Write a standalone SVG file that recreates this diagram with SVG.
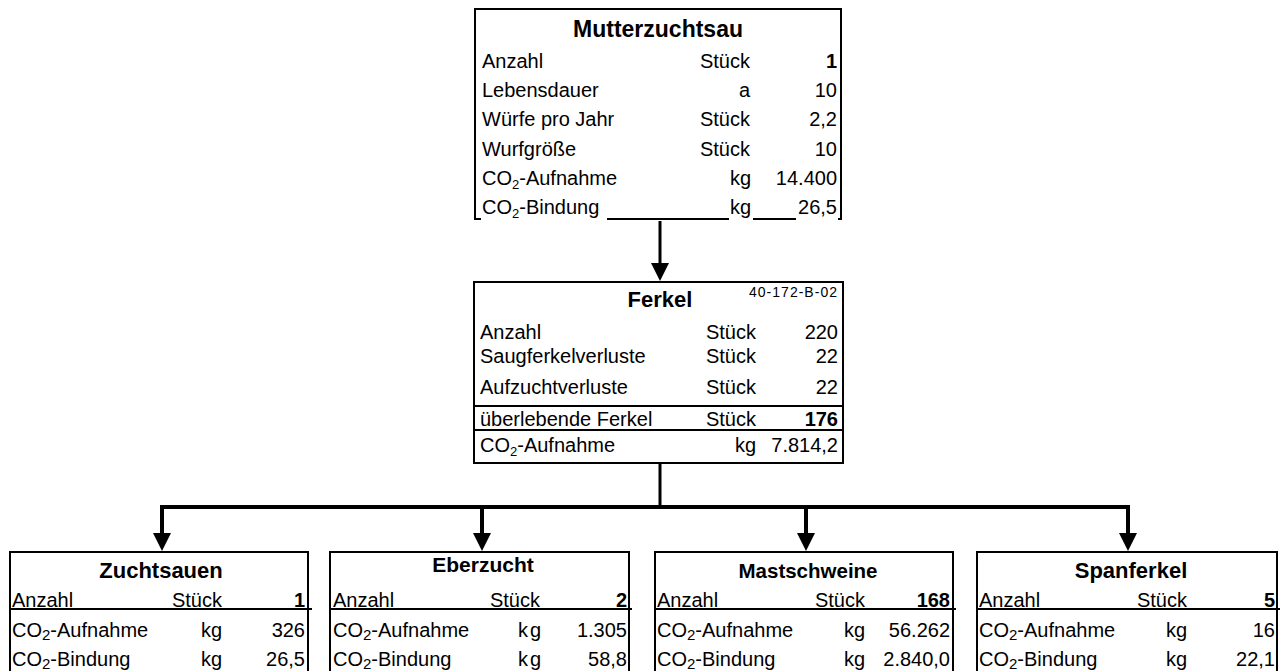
<svg xmlns="http://www.w3.org/2000/svg" width="1284" height="671" viewBox="0 0 1284 671">
<style>
text{font-family:"Liberation Sans",Arial,Helvetica,sans-serif;font-size:20px;fill:#000}
.b{font-weight:bold}
.t{font-weight:bold;font-size:22px;text-anchor:middle}
.r{text-anchor:end}
.m{text-anchor:middle}
.sub{font-size:13px}
.sub2{font-size:15px}
.code{font-size:14px}
.edge{fill:none;stroke:#000;stroke-width:2}
.ln{stroke:#000;stroke-width:2}
.conn{fill:none;stroke:#000;stroke-width:3}
.bar{fill:none;stroke:#000;stroke-width:4;stroke-linejoin:miter}
</style>
<defs>
<marker id="ah" viewBox="0 0 18 18" markerWidth="18" markerHeight="18" refX="6" refY="9" orient="auto" markerUnits="userSpaceOnUse">
<path d="M0,0 L18,9 L0,18 z" fill="#000"/>
</marker>
</defs>
<rect width="1284" height="671" fill="#fff"/>

<g id="connectors">
<line class="conn" x1="660" y1="221" x2="660" y2="269" marker-end="url(#ah)"/>
<line class="conn" x1="660" y1="463" x2="660" y2="507"/>
<path class="bar" d="M162,539 V507 H1128 V539" marker-end="url(#ah)"/>
<line class="bar" x1="162" y1="509" x2="162" y2="539" marker-end="url(#ah)"/>
<line class="bar" x1="482" y1="507" x2="482" y2="539" marker-end="url(#ah)"/>
<line class="bar" x1="806" y1="507" x2="806" y2="539" marker-end="url(#ah)"/>
</g>

<g id="mutterzuchtsau">
<path class="edge" d="M475,220 V9 H841 V220"/>
<path class="ln" d="M475,219 H481 M607,219 H729 M753,219 H796 M838,219 H841"/>
<text class="t" x="658" y="37" style="font-size:23px">Mutterzuchtsau</text>
<text x="482" y="68">Anzahl</text><text class="r" x="750" y="68">Stück</text><text class="b r" x="837" y="68">1</text>
<text x="482" y="97">Lebensdauer</text><text class="r" x="750" y="97">a</text><text class="r" x="837" y="97">10</text>
<text x="482" y="126">Würfe pro Jahr</text><text class="r" x="750" y="126">Stück</text><text class="r" x="837" y="126">2,2</text>
<text x="482" y="156">Wurfgröße</text><text class="r" x="750" y="156">Stück</text><text class="r" x="837" y="156">10</text>
<text x="482" y="185">CO<tspan class="sub" dy="4">2</tspan><tspan dy="-4">-Aufnahme</tspan></text><text class="r" x="751" y="185">kg</text><text class="r" x="837" y="185">14.400</text>
<text x="482" y="214">CO<tspan class="sub" dy="4">2</tspan><tspan dy="-4">-Bindung</tspan></text><text class="r" x="751" y="214">kg</text><text class="r" x="837" y="214">26,5</text>
</g>

<g id="ferkel">
<rect class="edge" x="474" y="282" width="369" height="181" fill="#fff"/>
<line class="ln" x1="474" y1="406" x2="843" y2="406"/>
<line class="ln" x1="474" y1="430" x2="843" y2="430"/>
<text class="t" x="660" y="307">Ferkel</text>
<text class="code r" x="837" y="297" textLength="88">40-172-B-02</text>
<text x="480" y="339">Anzahl</text><text class="r" x="756" y="339">Stück</text><text class="r" x="838" y="339">220</text>
<text x="480" y="363">Saugferkelverluste</text><text class="r" x="756" y="363">Stück</text><text class="r" x="838" y="363">22</text>
<text x="480" y="394">Aufzuchtverluste</text><text class="r" x="756" y="394">Stück</text><text class="r" x="838" y="394">22</text>
<text x="480" y="426">überlebende Ferkel</text><text class="r" x="756" y="426">Stück</text><text class="b r" x="838" y="426">176</text>
<text x="480" y="452">CO<tspan class="sub" dy="4">2</tspan><tspan dy="-4">-Aufnahme</tspan></text><text class="r" x="756" y="452">kg</text><text class="r" x="838" y="452">7.814,2</text>
</g>

<g id="zuchtsauen">
<path class="edge" d="M10,672 V552 H308 V672"/>
<line class="ln" x1="10" y1="609" x2="312" y2="609"/>
<text class="t" x="161" y="578">Zuchtsauen</text>
<text x="12" y="607">Anzahl</text><text class="r" x="222" y="607">Stück</text><text class="b r" x="305" y="607">1</text>
<text x="12" y="637">CO<tspan class="sub2" dy="3">2</tspan><tspan dy="-3">-Aufnahme</tspan></text><text class="r" x="222" y="637">kg</text><text class="r" x="305" y="637">326</text>
<text x="12" y="666">CO<tspan class="sub2" dy="3">2</tspan><tspan dy="-3">-Bindung</tspan></text><text class="r" x="222" y="666">kg</text><text class="r" x="305" y="666">26,5</text>
</g>

<g id="eberzucht">
<path class="edge" d="M330,672 V552 H629 V672"/>
<line class="ln" x1="330" y1="609" x2="632" y2="609"/>
<text class="t" x="483" y="572" style="font-size:21px">Eberzucht</text>
<text x="333" y="607">Anzahl</text><text class="r" x="540" y="607">Stück</text><text class="b r" x="627" y="607">2</text>
<text x="333" y="637">CO<tspan class="sub2" dy="3">2</tspan><tspan dy="-3">-Aufnahme</tspan></text><text class="r" x="543" y="637" letter-spacing="2">kg</text><text class="r" x="627" y="637">1.305</text>
<text x="333" y="666">CO<tspan class="sub2" dy="3">2</tspan><tspan dy="-3">-Bindung</tspan></text><text class="r" x="543" y="666" letter-spacing="2">kg</text><text class="r" x="627" y="666">58,8</text>
</g>

<g id="mastschweine">
<path class="edge" d="M655,672 V552 H953 V672"/>
<line class="ln" x1="655" y1="609" x2="956" y2="609"/>
<text class="t" x="808" y="578" style="font-size:20.5px">Mastschweine</text>
<text x="657" y="607">Anzahl</text><text class="r" x="865" y="607">Stück</text><text class="b r" x="950" y="607">168</text>
<text x="657" y="637">CO<tspan class="sub2" dy="3">2</tspan><tspan dy="-3">-Aufnahme</tspan></text><text class="r" x="865" y="637">kg</text><text class="r" x="950" y="637">56.262</text>
<text x="657" y="666">CO<tspan class="sub2" dy="3">2</tspan><tspan dy="-3">-Bindung</tspan></text><text class="r" x="865" y="666">kg</text><text class="r" x="950" y="666">2.840,0</text>
</g>

<g id="spanferkel">
<path class="edge" d="M977,672 V552 H1277 V672"/>
<line class="ln" x1="977" y1="609" x2="1280" y2="609"/>
<text class="t" x="1131" y="578">Spanferkel</text>
<text x="979" y="607">Anzahl</text><text class="r" x="1187" y="607">Stück</text><text class="b r" x="1275" y="607">5</text>
<text x="979" y="637">CO<tspan class="sub2" dy="3">2</tspan><tspan dy="-3">-Aufnahme</tspan></text><text class="r" x="1187" y="637">kg</text><text class="r" x="1275" y="637">16</text>
<text x="979" y="666">CO<tspan class="sub2" dy="3">2</tspan><tspan dy="-3">-Bindung</tspan></text><text class="r" x="1187" y="666">kg</text><text class="r" x="1275" y="666">22,1</text>
</g>
</svg>
